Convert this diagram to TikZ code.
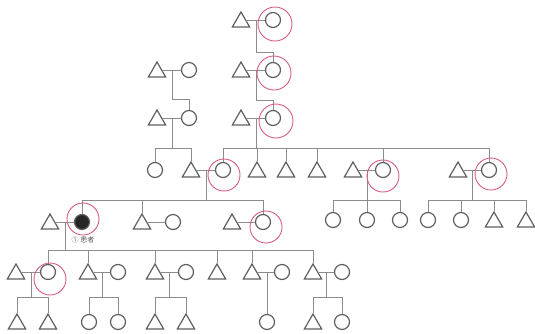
\documentclass[tikz,border=0pt]{standalone}
\usepackage{fontspec}
\newfontfamily\cjk{Noto Sans CJK JP}
\usepackage{tikz}
\usetikzlibrary{
	calc,
	shapes.geometric
}
\definecolor{ShapeGray}{RGB}{95,95,95}
\definecolor{LineGray}{RGB}{140,140,140}
\definecolor{RingRed}{RGB}{214,92,130}

\begin{document}
\begin{tikzpicture}[x=1pt, y=-1pt,
		male/.style={regular polygon, regular polygon sides=3, draw=ShapeGray, line width=1.2pt, minimum size=20pt, inner sep=0pt, yshift=-2pt},
		female/.style={circle, draw=ShapeGray, line width=1.2pt, minimum size=15pt, inner sep=0pt},
		affected/.style={female, fill=black!85},
		link/.style={draw=LineGray, line width=0.8pt},
		ring/.style={draw=RingRed, line width=0.9pt}]
			\useasboundingbox (0,0) rectangle (535,333);
			% generations I-III
			\node[male] (I1) at (241,20) {};
			\node[female] (I2) at (273,20) {};
			\node[male] (IIa1) at (157,70) {};
			\node[female] (IIa2) at (189,70) {};
			\node[male] (IIb1) at (241,70) {};
			\node[female] (IIb2) at (273,70) {};
			\node[male] (IIIa1) at (157,118) {};
			\node[female] (IIIa2) at (189,118) {};
			\node[male] (IIIb1) at (241,118) {};
			\node[female] (IIIb2) at (273,118) {};
			% generation IV
			\node[female] (IV1) at (155,170) {};
			\node[male] (IV2) at (191,170) {};
			\node[female] (IV3) at (223,170) {};
			\node[male] (IV4) at (257,170) {};
			\node[male] (IV5) at (286,170) {};
			\node[male] (IV6) at (317,170) {};
			\node[male] (IV7) at (353,170) {};
			\node[female] (IV8) at (383,170) {};
			\node[male] (IV9) at (458,170) {};
			\node[female] (IV10) at (489,170) {};
			% generation V
			\node[male] (V1) at (50,222) {};
			\node[affected] (V2) at (82,222) {};
			\node[male] (V3) at (142,222) {};
			\node[female] (V4) at (173,222) {};
			\node[male] (V5) at (232,222) {};
			\node[female] (V6) at (263,222) {};
			\node[female] (V7) at (333,220) {};
			\node[female] (V8) at (367,220) {};
			\node[female] (V9) at (400,220) {};
			\node[female] (V10) at (428,220) {};
			\node[female] (V11) at (461,220) {};
			\node[male] (V12) at (494,220) {};
			\node[male] (V13) at (526,220) {};
			\node[font=\cjk\fontsize{7}{7}\selectfont, text=ShapeGray] (proband) at ($(V2)+(1,18)$) {① 患者};
			% generation VI
			\node[male] (VI1) at (16,272) {};
			\node[female] (VI2) at (48,272) {};
			\node[male] (VI3) at (88,272) {};
			\node[female] (VI4) at (118,272) {};
			\node[male] (VI5) at (155,272) {};
			\node[female] (VI6) at (186,272) {};
			\node[male] (VI7) at (217,272) {};
			\node[male] (VI8) at (252,272) {};
			\node[female] (VI9) at (282,272) {};
			\node[male] (VI10) at (313,272) {};
			\node[female] (VI11) at (342,272) {};
			% generation VII
			\node[male] (VII1) at (17,322) {};
			\node[male] (VII2) at (48,322) {};
			\node[female] (VII3) at (89,322) {};
			\node[female] (VII4) at (118,322) {};
			\node[male] (VII5) at (155,322) {};
			\node[male] (VII6) at (186,322) {};
			\node[female] (VII7) at (267,322) {};
			\node[male] (VII8) at (313,322) {};
			\node[female] (VII9) at (342,322) {};
			% marriage lines
			\draw[link] (I1.east |- I2.west) -- (I2.west);
			\draw[link] (IIa1.east |- IIa2.west) -- (IIa2.west);
			\draw[link] (IIb1.east |- IIb2.west) -- (IIb2.west);
			\draw[link] (IIIa1.east |- IIIa2.west) -- (IIIa2.west);
			\draw[link] (IIIb1.east |- IIIb2.west) -- (IIIb2.west);
			\draw[link] (IV2.east |- IV3.west) -- (IV3.west);
			\draw[link] (IV7.east |- IV8.west) -- (IV8.west);
			\draw[link] (IV9.east |- IV10.west) -- (IV10.west);
			\draw[link] (V1.east |- V2.west) -- (V2.west);
			\draw[link] (V3.east |- V4.west) -- (V4.west);
			\draw[link] (V5.east |- V6.west) -- (V6.west);
			\draw[link] (VI1.east |- VI2.west) -- (VI2.west);
			\draw[link] (VI3.east |- VI4.west) -- (VI4.west);
			\draw[link] (VI5.east |- VI6.west) -- (VI6.west);
			\draw[link] (VI8.east |- VI9.west) -- (VI9.west);
			\draw[link] (VI10.east |- VI11.west) -- (VI11.west);
			\coordinate (mI) at ($(I1.east |- I2.west)!0.5!(I2.west)$);
			\coordinate (mIIa) at ($(IIa1.east |- IIa2.west)!0.5!(IIa2.west)$);
			\coordinate (mIIb) at ($(IIb1.east |- IIb2.west)!0.5!(IIb2.west)$);
			\coordinate (mIIIa) at ($(IIIa1.east |- IIIa2.west)!0.5!(IIIa2.west)$);
			\coordinate (mIIIb) at ($(IIIb1.east |- IIIb2.west)!0.5!(IIIb2.west)$);
			\coordinate (mIV23) at ($(IV2.east |- IV3.west)!0.5!(IV3.west)$);
			\coordinate (mIV78) at ($(IV7.east |- IV8.west)!0.5!(IV8.west)$);
			\coordinate (mIV910) at ($(IV9.east |- IV10.west)!0.5!(IV10.west)$);
			\coordinate (mV12) at ($(V1.east |- V2.west)!0.5!(V2.west)$);
			\coordinate (mVI12) at ($(VI1.east |- VI2.west)!0.5!(VI2.west)$);
			\coordinate (mVI34) at ($(VI3.east |- VI4.west)!0.5!(VI4.west)$);
			\coordinate (mVI56) at ($(VI5.east |- VI6.west)!0.5!(VI6.west)$);
			\coordinate (mVI1011) at ($(VI10.east |- VI11.west)!0.5!(VI11.west)$);
			% sibship bars
			\coordinate (barIV) at (0,148);
			\coordinate (barV) at (0,200);
			\coordinate (barVI) at (0,250);
			\coordinate (barVII) at (0,297);
			% descent lines
			\draw[link] (mI) |- ($(IIb2.north)+(0,-10)$) -- (IIb2.north);
			\draw[link] (mIIb) |- ($(IIIb2.north)+(0,-10)$) -- (IIIb2.north);
			\draw[link] (mIIa) |- ($(IIIa2.north)+(0,-11)$) -- (IIIa2.north);
			\draw[link] (mIIIa) -- (mIIIa |- barIV);
			\draw[link] (IV1.north) -- (IV1.north |- barIV) -- (IV2.north |- barIV) -- (IV2.north);
			\draw[link] (mIIIb) -- (mIIIb |- barIV);
			\draw[link] (IV3.north) -- (IV3.north |- barIV) -- (IV10.north |- barIV) -- (IV10.north)
				(IV4.north) -- (IV4.north |- barIV) (IV5.north) -- (IV5.north |- barIV)
				(IV6.north) -- (IV6.north |- barIV) (IV8.north) -- (IV8.north |- barIV);
			\draw[link] (mIV23) -- (mIV23 |- barV);
			\draw[link] (V2.north) -- (V2.north |- barV) -- (V6.north |- barV) -- (V6.north)
				(V3.north) -- (V3.north |- barV);
			\draw[link] (mIV78) -- (mIV78 |- barV);
			\draw[link] (V7.north) -- (V7.north |- barV) -- (V9.north |- barV) -- (V9.north)
				(V8.north) -- (V8.north |- barV);
			\draw[link] (mIV910) -- (mIV910 |- barV);
			\draw[link] (V10.north) -- (V10.north |- barV) -- (V13.north |- barV) -- (V13.north)
				(V11.north) -- (V11.north |- barV) (V12.north) -- (V12.north |- barV);
			\draw[link] (mV12) -- (mV12 |- barVI);
			\draw[link] (VI2.north) -- (VI2.north |- barVI) -- (VI10.north |- barVI) -- (VI10.north)
				(VI3.north) -- (VI3.north |- barVI) (VI5.north) -- (VI5.north |- barVI)
				(VI7.north) -- (VI7.north |- barVI) (VI8.north) -- (VI8.north |- barVI);
			\draw[link] (mVI12) -- (mVI12 |- barVII);
			\draw[link] (VII1.north) -- (VII1.north |- barVII) -- (VII2.north |- barVII) -- (VII2.north);
			\draw[link] (mVI34) -- (mVI34 |- barVII);
			\draw[link] (VII3.north) -- (VII3.north |- barVII) -- (VII4.north |- barVII) -- (VII4.north);
			\draw[link] (mVI56) -- (mVI56 |- barVII);
			\draw[link] (VII5.north) -- (VII5.north |- barVII) -- (VII6.north |- barVII) -- (VII6.north);
			\draw[link] (VII7.north |- VI9.west) -- (VII7.north);
			\draw[link] (mVI1011) -- (mVI1011 |- barVII);
			\draw[link] (VII8.north) -- (VII8.north |- barVII) -- (VII9.north |- barVII) -- (VII9.north);
			% red rings
			\draw[ring] ($(I2)+(2,4)$) circle (17pt);
			\draw[ring] ($(IIb2)+(1,3)$) circle (17pt);
			\draw[ring] ($(IIIb2)+(3,3)$) circle (17pt);
			\draw[ring] ($(IV3)+(1,5)$) circle (16pt);
			\draw[ring] ($(IV8)+(0,6)$) circle (16pt);
			\draw[ring] ($(IV10)+(2,4)$) circle (16pt);
			\draw[ring] ($(V2)+(1,-3)$) circle (16pt);
			\draw[ring] ($(V6)+(3,5)$) circle (16pt);
			\draw[ring] ($(VI2)+(2,7)$) circle (16pt);
		\end{tikzpicture}
\end{document}
